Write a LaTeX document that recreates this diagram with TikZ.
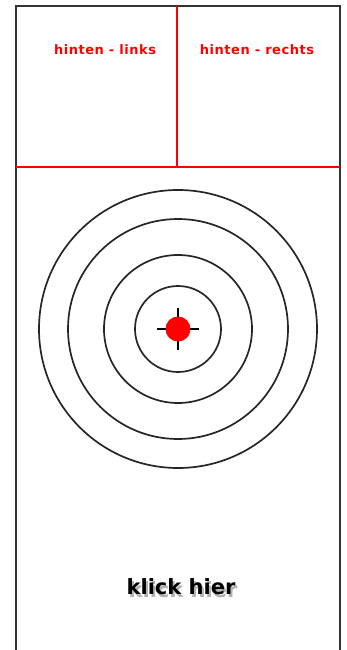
\documentclass[tikz,border=0pt]{standalone}
\usepackage{fontspec}
\setmainfont{DejaVu Sans}
\usetikzlibrary{calc}
\newcommand{\shadowtext}[1]{%
  \makebox[0pt][l]{\hspace{2pt}\raisebox{-3pt}{\color{black!30}#1}}%
  #1}
\begin{document}
\begin{tikzpicture}[x=1pt,y=-1pt,
  frame/.style={draw=black!80,line width=2.5pt},
  redline/.style={draw=red,line width=2pt},
  ring/.style={draw=black!85,line width=1.7pt},
  lbl/.style={text=red,font=\bfseries\fontsize{13}{15}\selectfont\addfontfeature{LetterSpace=4},inner sep=0pt},
  klick/.style={font=\bfseries\fontsize{21}{24}\selectfont,inner sep=0pt}]
\useasboundingbox (0,0) rectangle (347,650);
\fill[white] (0,0) rectangle (347,650);
% frame
\draw[frame] (16,660) -- (16,6) -- (340,6) -- (340,660);
% red lines
\coordinate (hl) at (16,167);
\coordinate (hr) at (340,167);
\coordinate (vt) at (177,6);
\coordinate (vb) at (177,167);
\draw[redline] (hl) -- (hr);
\draw[redline] (vt) -- (vb);
% labels
\node[lbl] (links) at (105,50) {hinten - links};
\node[lbl] (rechts) at (257,50) {hinten - rechts};
% target
\coordinate (c) at (178,329);
\foreach \r in {139,110,74,43} \draw[ring] (c) circle[radius=\r];
\draw[black,line width=1.7pt] ($(c)+(-21,0)$) -- ($(c)+(21,0)$);
\draw[black,line width=1.7pt] ($(c)+(0,-21)$) -- ($(c)+(0,21)$);
\fill[red] (c) circle[radius=12.5];
% klick hier
\node[klick,text=black] (klick) at (181,588) {\shadowtext{klick hier}};
\end{tikzpicture}
\end{document}
